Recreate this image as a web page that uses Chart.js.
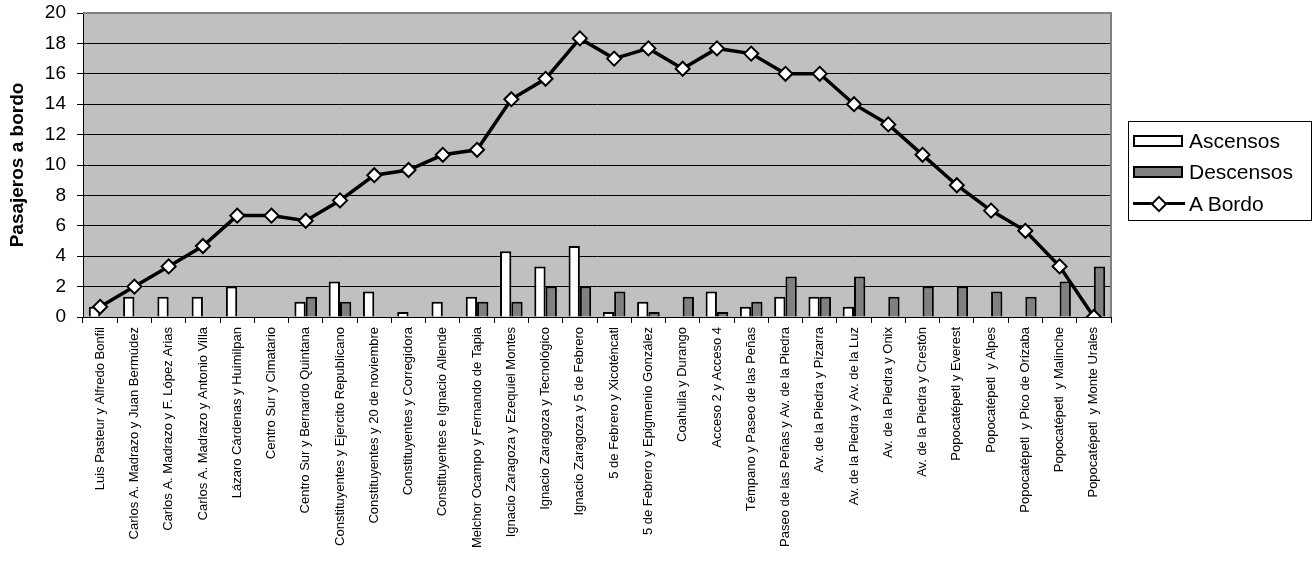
<!DOCTYPE html>
<html>
<head>
<meta charset="utf-8">
<script src="https://cdn.jsdelivr.net/npm/chart.js@4"></script>
<style>
    body { margin: 0; background: #fff; }
    #wrap { position: relative; width: 1315px; height: 563px; }
    #leyenda {
        position: absolute; left: 1128px; top: 121px; width: 182px; height: 98px;
        border: 1px solid #000; font-family: Arial, 'Liberation Sans', sans-serif; font-size: 21px;
    }
    .item { position: absolute; left: 4px; height: 24px; display: flex; align-items: center; }
    .caja { width: 50px; height: 12px; border: 2px solid #000; box-sizing: border-box; margin-right: 6px; }
    .linea { position: relative; width: 52px; height: 16px; margin-right: 4px; }
    .linea::before { content: ''; position: absolute; left: 0; right: 0; top: 6px; height: 3px; background: #000; }
    .linea::after {
        content: ''; position: absolute; left: 20px; top: 2px; width: 8px; height: 8px;
        background: #fff; border: 2px solid #000; transform: rotate(45deg);
    }
</style>
</head>
<body>
<div id="wrap">
    <canvas id="grafica" width="1315" height="563"></canvas>
    <div id="leyenda">
        <div class="item" style="top:7px"><span class="caja" style="background:#fff"></span>Ascensos</div>
        <div class="item" style="top:38px"><span class="caja" style="background:#808080"></span>Descensos</div>
        <div class="item" style="top:70px"><span class="linea"></span>A Bordo</div>
    </div>
</div>
<script>
// Paradas de la ruta
const paradas = [
    'Luis Pasteur y Alfredo Bonfil', 'Carlos A. Madrazo y Juan Bermúdez', 'Carlos A. Madrazo y F. López Arias',
    'Carlos A. Madrazo y Antonio Villa', 'Lázaro Cárdenas y Huimilpan', 'Centro Sur y Cimatario',
    'Centro Sur y Bernardo Quintana', 'Constituyentes y Ejercito Republicano', 'Constituyentes y 20 de noviembre',
    'Constituyentes y Corregidora', 'Constituyentes e Ignacio Allende', 'Melchor Ocampo y Fernando de Tapia',
    'Ignacio Zaragoza y Ezequiel Montes', 'Ignacio Zaragoza y Tecnológico', 'Ignacio Zaragoza y 5 de Febrero',
    '5 de Febrero y Xicoténcatl', '5 de Febrero y Epigmenio González', 'Coahuila y Durango',
    'Acceso 2 y Acceso 4', 'Témpano y Paseo de las Peñas', 'Paseo de las Peñas y Av. de la Piedra',
    'Av. de la Piedra y Pizarra', 'Av. de la Piedra y Av. de la Luz', 'Av. de la Piedra y Onix',
    'Av. de la Piedra y Crestón', 'Popocatépetl y Everest', 'Popocatépetl  y Alpes',
    'Popocatépetl  y Pico de Orizaba', 'Popocatépetl  y Malinche', 'Popocatépetl  y Monte Urales'
];

const ascensos = [0.67, 1.33, 1.33, 1.33, 2, 0, 1, 2.33, 1.67, 0.33, 1, 1.33, 4.33, 3.33, 4.67,
    0.33, 1, 0, 1.67, 0.67, 1.33, 1.33, 0.67, 0, 0, 0, 0, 0, 0, 0];
const descensos = [0, 0, 0, 0, 0, 0, 1.33, 1, 0, 0, 0, 1, 1, 2, 2,
    1.67, 0.33, 1.33, 0.33, 1, 2.67, 1.33, 2.67, 1.33, 2, 2, 1.67, 1.33, 2.33, 3.33];
const aBordo = [0.67, 2, 3.33, 4.67, 6.67, 6.67, 6.33, 7.67, 9.33, 9.67, 10.67, 11, 14.33, 15.67, 18.33,
    17, 17.67, 16.33, 17.67, 17.33, 16, 16, 14, 12.67, 10.67, 8.67, 7, 5.67, 3.33, 0];

const ticksY = [0, 2, 4, 6, 8, 10, 12, 14, 16, 18, 20];

const fuente = "Arial, 'Liberation Sans', sans-serif";

// Fondo gris del área de trazado y marco
const fondoArea = {
    id: 'fondoArea',
    beforeDraw(chart) {
        const { ctx, chartArea: a } = chart;
        ctx.save();
        ctx.fillStyle = '#c0c0c0';
        ctx.fillRect(a.left, a.top, a.right - a.left, a.bottom - a.top);
        ctx.restore();
    },
    beforeDatasetsDraw(chart) {
        const { ctx, chartArea: a } = chart;
        ctx.save();
        ctx.strokeStyle = '#808080';
        ctx.lineWidth = 2;
        ctx.beginPath();
        ctx.moveTo(a.left, a.top);
        ctx.lineTo(a.right, a.top);
        ctx.lineTo(a.right, a.bottom);
        ctx.stroke();
        ctx.restore();
    }
};

new Chart(document.getElementById('grafica'), {
    data: {
        labels: paradas,
        datasets: [
            {
                type: 'line',
                label: 'A Bordo',
                data: aBordo,
                borderColor: '#000',
                borderWidth: 3.5,
                pointStyle: 'rectRot',
                pointRadius: 7,
                pointBackgroundColor: '#fff',
                pointBorderColor: '#000',
                pointBorderWidth: 2,
                tension: 0,
                order: 0
            },
            {
                type: 'bar',
                label: 'Ascensos',
                data: ascensos,
                backgroundColor: '#fff',
                borderColor: '#000',
                borderWidth: 2,
                categoryPercentage: 0.66,
                barPercentage: 1,
                order: 1
            },
            {
                type: 'bar',
                label: 'Descensos',
                data: descensos,
                backgroundColor: '#808080',
                borderColor: '#000',
                borderWidth: 2,
                categoryPercentage: 0.66,
                barPercentage: 1,
                order: 1
            }
        ]
    },
    options: {
        responsive: false,
        animation: false,
        layout: { padding: { left: 6, right: 204, top: 13, bottom: 0 } },
        plugins: { legend: { display: false }, tooltip: { enabled: false } },
        scales: {
            x: {
                offset: true,
                grid: { offset: true, drawOnChartArea: false, color: '#000', tickLength: 6 },
                border: { color: '#000', width: 1 },
                ticks: {
                    autoSkip: false, minRotation: 90, maxRotation: 90, padding: 4,
                    color: '#000', font: { family: fuente, size: 13 }
                },
                afterFit(scale) { scale.height = 246; }
            },
            y: {
                min: 0, max: 20,
                afterBuildTicks(scale) { scale.ticks = ticksY.map(v => ({ value: v })); },
                grid: { color: '#000', tickColor: '#000', tickLength: 6 },
                border: { color: '#000', width: 1 },
                ticks: { padding: 11, color: '#000', font: { family: fuente, size: 19 } },
                title: {
                    display: true, text: 'Pasajeros a bordo', color: '#000',
                    font: { family: fuente, size: 19, weight: 'bold' }, padding: { top: 0, bottom: 0 }
                },
                afterFit(scale) {
                    scale.width = 77;
                    scale.paddingTop = 0;
                    scale.paddingBottom = 0;
                }
            }
        }
    },
    plugins: [fondoArea]
});
</script>
</body>
</html>
